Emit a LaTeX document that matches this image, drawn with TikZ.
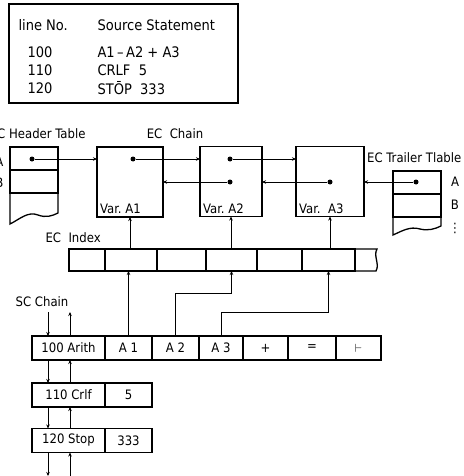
\documentclass[tikz,border=0pt]{standalone}
\usepackage{fontspec}
\setmainfont{DejaVu Sans Condensed}
\usetikzlibrary{arrows.meta, positioning, calc}

\begin{document}
\begin{tikzpicture}[x=1pt, y=-1pt, >={Stealth[length=4pt,width=3.5pt]},
  font=\fontsize{13}{15}\selectfont,
  box/.style={draw, line width=1.3pt, inner sep=0pt, outer sep=0pt},
  cell/.style={box, minimum height=24pt},
  idxcell/.style={box, minimum height=22pt},
  varbox/.style={box, minimum height=70pt},
  link/.style={->, line width=0.9pt},
  listing/.style={anchor=west, font=\fontsize{14.5}{16}\selectfont},
  dot/.style={circle, fill, inner sep=0pt, minimum size=5pt}]
  \useasboundingbox (0,0) rectangle (463,476);

  % source listing
  \draw[line width=1.3pt] (9,4) rectangle (238,103);
  \node[listing] (hline) at (15,25) {line No.};
  \node[listing] (hsrc) at (94,25) {Source Statement};
  \node[listing] (l100) at (24,52) {100};
  \node[listing] (s100) at (94,52) {A1\,–\,A2 + A3};
  \node[listing] (l110) at (24,70) {110};
  \node[listing] (s110) at (94,70) {CRLF\ \ 5};
  \node[listing] (l120) at (24,88) {120};
  \node[listing] (s120) at (94,88) {STŌP\ \ 333};

  % EC header table
  \node[anchor=east] (hdrlbl) at (89,134) {EC\ Header Table};
  \node[anchor=east] (hdrA) at (7,162) {A};
  \node[anchor=east] (hdrB) at (7,183) {B};
  \node[box, minimum width=48pt, minimum height=23pt] (hrow1) at (34,158.5) {};
  \node[box, minimum width=48pt, minimum height=23pt, below=0pt of hrow1] (hrow2) {};
  \draw[line width=1.3pt] (hrow2.south west) -- (10,224)
    .. controls (20,219) and (28,211) .. (38,215)
    .. controls (46,218) and (52,216) .. (58,213) -- (hrow2.south east);
  \node[dot] (hdot) at (32,159) {};

  % EC chain
  \node (chainlbl) at (175,134) {EC\ \ Chain};
  \node[varbox, minimum width=66pt] (a1) at (130,182) {};
  \node[varbox, minimum width=62pt] (a2) at (231,181.5) {};
  \node[varbox, minimum width=68pt] (a3) at (330,181.5) {};
  \node[anchor=south west, inner sep=3pt] (a1lbl) at (a1.south west) {Var.\ A1};
  \node[anchor=south west, inner sep=3pt] (a2lbl) at (a2.south west) {Var.\ A2};
  \node[anchor=south west, inner sep=3pt] (a3lbl) at (a3.south west) {Var.\ \ A3};
  \node[dot] (d1) at (133,159) {};
  \node[dot] (d2a) at (230,159) {};
  \node[dot] (d2b) at (230,182) {};
  \node[dot] (d3) at (330,182) {};

  % EC trailer table
  \node[anchor=west, inner sep=1pt] (trllbl) at (366,158) {EC Trailer Tlable};
  \node[box, minimum width=48pt, minimum height=23pt] (trow1) at (417,182.5) {};
  \node[box, minimum width=48pt, minimum height=23pt, below=0pt of trow1] (trow2) {};
  \draw[line width=1.3pt] (trow2.south west) -- (393,235)
    .. controls (402,231) and (410,226) .. (420,229)
    .. controls (428,231) and (435,229) .. (441,226) -- (trow2.south east);
  \node[dot] (tdot) at (416,182) {};
  \node (trlA) at (455,182) {A};
  \node (trlB) at (455,205) {B};
  \node[inner sep=0pt] (trlC) at (455,228) {⋮};

  % chain pointers
  \draw[link] (hdot) -- (a1.west |- hdot);
  \draw[link] (d1) -- (a2.west |- d1);
  \draw[link] (d2a) -- (a3.west |- d2a);
  \draw[link] (d2b) -- (a1.east |- d2b);
  \draw[link] (d3) -- (a2.east |- d3);
  \draw[link] (tdot) -- (a3.east |- tdot);

  % EC index
  \node[anchor=west] (idxlbl) at (42,238) {EC\ \ Index};
  \node[idxcell, minimum width=36pt] (idx1) at (87,260) {};
  \node[idxcell, minimum width=52pt, right=0pt of idx1] (idx2) {};
  \node[idxcell, minimum width=49pt, right=0pt of idx2] (idx3) {};
  \node[idxcell, minimum width=51pt, right=0pt of idx3] (idx4) {};
  \node[idxcell, minimum width=45pt, right=0pt of idx4] (idx5) {};
  \node[idxcell, minimum width=53pt, right=0pt of idx5] (idx6) {};
  \draw[line width=1.3pt] (idx6.north east) -- (377,249)
    .. controls (373,256) and (380,264) .. (376,271) -- (idx6.south east);
  \draw[link] (a1.south |- idx2.north) -- (a1.south);
  \draw[link] (a2.south |- idx4.north) -- (a2.south);
  \draw[link] (a3.south |- idx6.north) -- (a3.south);

  % SC chain
  \node (sclbl) at (42,302) {SC Chain};
  \node[cell, minimum width=73pt] (sc1) at (68.5,348) {100 Arith};
  \node[cell, minimum width=47pt, right=0pt of sc1] (sa1) {A 1};
  \node[cell, minimum width=47pt, right=0pt of sa1] (sa2) {A 2};
  \node[cell, minimum width=44pt, right=0pt of sa2] (sa3) {A 3};
  \node[cell, minimum width=45pt, right=0pt of sa3] (splus) {+};
  \node[cell, minimum width=48pt, right=0pt of splus] (seq) {=};
  \node[cell, minimum width=45pt, right=0pt of seq] (send) {$\vdash$};
  \node[cell, minimum width=73pt] (sc2) at (68.5,395) {110 Crlf};
  \node[cell, minimum width=47pt, right=0pt of sc2] (sb1) {5};
  \node[cell, minimum width=73pt] (sc3) at (68.5,440.5) {120 Stop};
  \node[cell, minimum width=47pt, right=0pt of sc3] (sd1) {333};

  \draw[link] (sa1.north) -- (sa1.north |- idx2.south);
  \draw[link] (sa2.north) |- ($(idx4.south)+(0,22)$) -- (idx4.south);
  \draw[link] (sa3.north) |- ($(idx6.south)+(0,41)$) -- (idx6.south);

  \coordinate (dtop) at (48,312);
  \coordinate (utop) at (70,312);
  \coordinate (dbot) at (48,476);
  \coordinate (ubot) at (70,476);
  \draw[link] (dtop) -- (dtop |- sc1.north);
  \draw[link] (utop |- sc1.north) -- (utop);
  \draw[link] (dtop |- sc1.south) -- (dtop |- sc2.north);
  \draw[link] (utop |- sc2.north) -- (utop |- sc1.south);
  \draw[link] (dtop |- sc2.south) -- (dtop |- sc3.north);
  \draw[link] (utop |- sc3.north) -- (utop |- sc2.south);
  \draw[link] (dtop |- sc3.south) -- (dbot);
  \draw[link] (ubot) -- (utop |- sc3.south);
\end{tikzpicture}
\end{document}
